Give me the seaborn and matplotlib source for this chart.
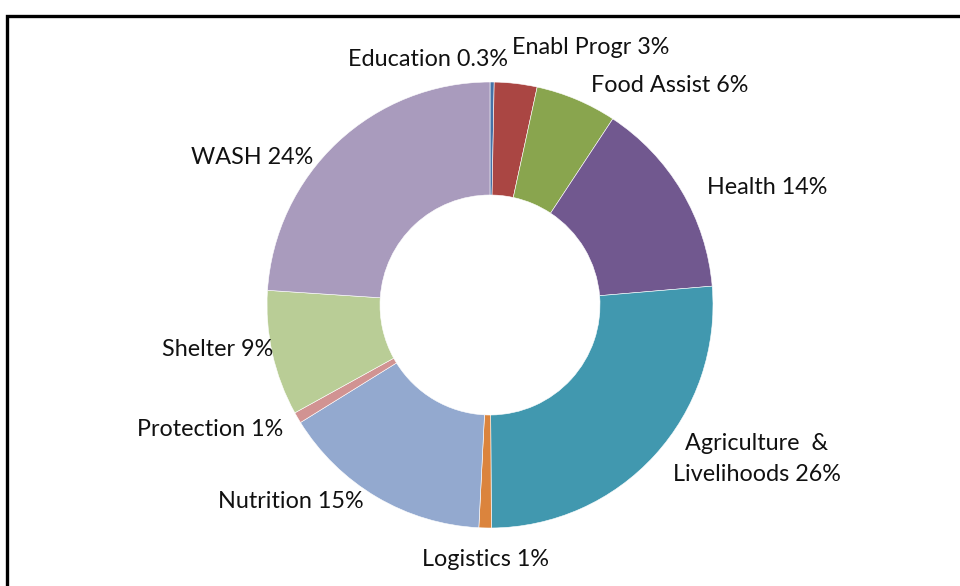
import matplotlib
matplotlib.use("Agg")
import matplotlib.pyplot as plt
import seaborn as sns

# Datos del gráfico (porcentaje por sector)
sectores = ["Education", "Enabl Progr", "Food Assist", "Health",
            "Agriculture  &\nLivelihoods", "Logistics", "Nutrition",
            "Protection", "Shelter", "WASH"]
valores = [0.3, 3.1, 5.9, 14.4, 26.3, 0.9, 15.4, 0.8, 9.1, 24.0]
etiquetas_pct = ["0.3%", "3%", "6%", "14%", "26%", "1%", "15%", "1%", "9%", "24%"]

colores = sns.color_palette(["#4572A7", "#AA4643", "#89A54E", "#71588F", "#4198AF",
                             "#DB843D", "#93A9CF", "#D19392", "#B9CD96", "#A99BBD"])

# Posición de cada etiqueta (píxeles desde arriba a la izquierda) y alineación
pos_etiquetas = [(508, 60, "right"), (512, 47, "left"), (591, 85, "left"),
                 (707, 187, "left"), (757, 459, "center"), (485, 560, "center"),
                 (291, 502, "center"), (210, 429, "center"), (218, 349, "center"),
                 (252, 157, "center")]

sns.set_theme(style="white")
plt.rcParams["font.family"] = ["Lato", "DejaVu Sans"]

W, H = 960, 586
fig = plt.figure(figsize=(9.6, 5.86), dpi=100)
ax = fig.add_axes([0, 0, 1, 1])
ax.axis("off")

ax.pie(valores, colors=colores, startangle=90, counterclock=False,
       center=(490, H - 305), radius=223,
       wedgeprops=dict(width=113, edgecolor="white", linewidth=0.4))
ax.set_xlim(0, W)
ax.set_ylim(0, H)
ax.set_aspect("equal")

for nombre, pct, (x, y, ha) in zip(sectores, etiquetas_pct, pos_etiquetas):
    ax.text(x, H - y, f"{nombre} {pct}", ha=ha, va="center", fontsize=16.8,
            color="#111111", linespacing=1.55)

# Marco negro (cortado a la derecha y abajo)
ax.plot([7, 7, W], [0, H - 16, H - 16], color="black", lw=2.4,
        solid_joinstyle="miter", clip_on=False)

fig.savefig("out.png", dpi=100)
